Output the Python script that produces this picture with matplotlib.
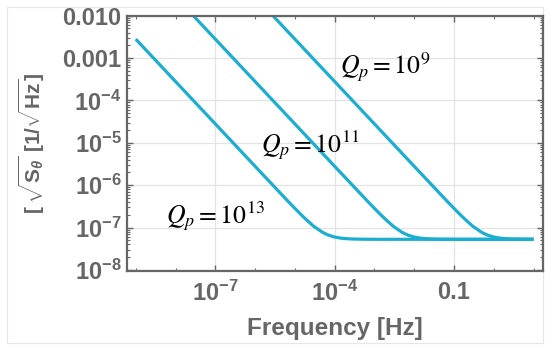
import matplotlib
matplotlib.use("Agg")
import matplotlib.pyplot as plt
from matplotlib.ticker import FixedLocator, NullFormatter
import matplotlib.patches as mpatches

# ---- data ----
freq_q13 = [1e-9, 1e-6, 7e-6, 1e-5, 1.5e-5, 2e-5, 3e-5, 5e-5, 7e-5, 1e-4, 1.4e-4, 2e-4, 3e-4, 5e-4, 1e-3, 10]
asd_q13 = [2.8e-3, 2.8e-6, 4.03e-7, 2.85e-7, 1.94e-7, 1.50e-7, 1.07e-7, 7.71e-8, 6.64e-8, 5.99e-8, 5.66e-8, 5.48e-8, 5.38e-8, 5.33e-8, 5.3e-8, 5.3e-8]

freq_q11 = [1e-8, 1e-4, 7e-4, 1e-3, 1.5e-3, 2e-3, 3e-3, 5e-3, 7e-3, 1e-2, 1.4e-2, 2e-2, 3e-2, 5e-2, 0.1, 10]
asd_q11 = [2.8e-2, 2.8e-6, 4.03e-7, 2.85e-7, 1.94e-7, 1.50e-7, 1.07e-7, 7.71e-8, 6.64e-8, 5.99e-8, 5.66e-8, 5.48e-8, 5.38e-8, 5.33e-8, 5.3e-8, 5.3e-8]

freq_q9 = [1e-6, 1e-2, 7e-2, 0.1, 0.15, 0.2, 0.3, 0.5, 0.7, 1.0, 1.4, 2.0, 3.0, 5.0, 10]
asd_q9 = [2.8e-2, 2.8e-6, 4.03e-7, 2.85e-7, 1.94e-7, 1.50e-7, 1.07e-7, 7.71e-8, 6.64e-8, 5.99e-8, 5.66e-8, 5.48e-8, 5.38e-8, 5.33e-8, 5.3e-8]

labels = [r"$Q_p = 10^{9}$", r"$Q_p = 10^{11}$", r"$Q_p = 10^{13}$"]
label_pos = [(1.86e-3, 6.0e-4), (2.4e-5, 8.9e-6), (1.0e-7, 1.9e-7)]

xticks = [1e-7, 1e-4, 1e-1]
xticklabels = [r"$10^{-7}$", r"$10^{-4}$", "0.1"]
yticks = [1e-8, 1e-7, 1e-6, 1e-5, 1e-4, 1e-3, 1e-2]
yticklabels = [r"$10^{-8}$", r"$10^{-7}$", r"$10^{-6}$", r"$10^{-5}$", r"$10^{-4}$", "0.001", "0.010"]

# ---- style ----
plt.rcParams['font.family'] = ['Liberation Sans', 'DejaVu Sans']
plt.rcParams['mathtext.fontset'] = 'custom'
plt.rcParams['mathtext.rm'] = 'Liberation Sans:bold'
plt.rcParams['mathtext.bf'] = 'Liberation Sans:bold'
plt.rcParams['mathtext.it'] = 'Liberation Sans:bold:italic'
plt.rcParams['mathtext.sf'] = 'Liberation Sans:bold'

grey = '#666666'
line_col = '#1caed2'

fig = plt.figure(figsize=(5.5, 3.51), dpi=100)
ax = fig.add_axes([0.2309, 0.2265, 0.9867 - 0.2309, 0.9553 - 0.2265])

for f, a in [(freq_q13, asd_q13), (freq_q11, asd_q11), (freq_q9, asd_q9)]:
    ax.plot(f, a, color=line_col, lw=2.3, solid_capstyle='butt')

ax.set_xscale('log')
ax.set_yscale('log')
ax.set_xlim(10**-9.22, 10**1.23)
ax.set_ylim(10**-8.035, 1e-2)

ax.xaxis.set_major_locator(FixedLocator(xticks))
ax.set_xticklabels(xticklabels, fontweight='bold')
ax.xaxis.set_minor_locator(FixedLocator([10.0**k for k in range(-9, 2)]))
ax.xaxis.set_minor_formatter(NullFormatter())
ax.yaxis.set_major_locator(FixedLocator(yticks))
ax.set_yticklabels(yticklabels, fontweight='bold')
ymin = []
for k in range(-8, -2):
    for m in range(2, 10):
        ymin.append(m * 10.0**k)
ax.yaxis.set_minor_locator(FixedLocator(ymin))
ax.yaxis.set_minor_formatter(NullFormatter())

ax.grid(True, which='major', color='#e3e3e3', lw=0.9)
ax.set_axisbelow(True)

for s in ax.spines.values():
    s.set_color(grey)
    s.set_linewidth(1.6)

ax.tick_params(which='both', direction='in', top=True, right=True, colors=grey,
               labelcolor=grey, labelsize=17)
ax.tick_params(which='major', length=4, width=1.0, pad=4)
ax.tick_params(axis='x', which='major', pad=6.5)
ax.tick_params(which='minor', length=2.5, width=0.8)

ax.set_xlabel('Frequency [Hz]', fontsize=17.5, color=grey, fontweight='bold', labelpad=8)
ax.set_ylabel(r'[$\,\sqrt{\mathrm{S}_\theta}$ [1/$\sqrt{\mathrm{Hz}}$]', fontsize=15,
              color=grey, fontweight='bold', labelpad=11)

for txt, (x, y) in zip(labels, label_pos):
    ax.text(x, y, txt, fontsize=18.5, color='black', ha='center', va='center',
            math_fontfamily='stix', fontweight='normal')

fig.patches.append(mpatches.Rectangle((7 / 550, 8 / 351), 536 / 550, 336 / 351,
                                      transform=fig.transFigure, fill=False,
                                      edgecolor='#e6e6e6', lw=0.8, zorder=-1))

fig.savefig('out.png', dpi=100)
